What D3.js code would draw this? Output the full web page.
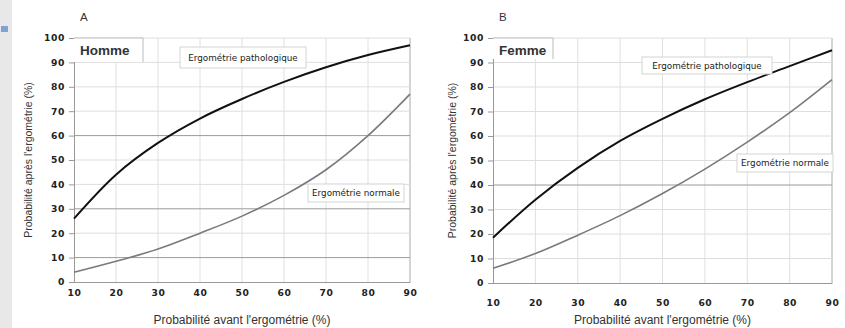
<!DOCTYPE html>
<html>
<head>
<meta charset="utf-8">
<script src="https://cdn.jsdelivr.net/npm/d3@7"></script>
<style>
  body { margin: 0; background: #fff; }
  svg { display: block; font-family: "Liberation Sans", Arial, sans-serif; }
  .tick text { font-family: "DejaVu Sans", sans-serif; font-weight: bold; font-size: 9.2px; letter-spacing: 0.6px; fill: #222; }
  .tick line { stroke: #999; }
  .domain { stroke: #999; }
  .tag { font-family: "DejaVu Sans", sans-serif; font-size: 8.8px; fill: #222; }
</style>
</head>
<body>
<div id="chart"></div>
<script>
// probabilité avant l'ergométrie (%)
const preProb = [10, 20, 30, 40, 50, 60, 70, 80, 90];
// probabilité après l'ergométrie (%)
const hommePatho  = [26, 44, 57, 67, 75, 82, 88, 93, 97];
const hommeNormal = [4, 8.5, 13.5, 20, 27, 35.5, 46, 60, 77];
const femmePatho  = [18.5, 34, 47, 58, 67, 75, 82, 88.5, 95];
const femmeNormal = [6, 12, 19.5, 27.5, 36.5, 46.5, 57.5, 69.5, 83];
const yTicks = [0, 10, 20, 30, 40, 50, 60, 70, 80, 90, 100];
const xTicks = preProb;
const panelLetters = ["A", "B"];
const sexLabels = ["Homme", "Femme"];
const pathoLabel = "Ergométrie pathologique";
const normalLabel = "Ergométrie normale";

const svg = d3.select("#chart").append("svg")
    .attr("width", 845)
    .attr("height", 328);

// bande grise du bord gauche
svg.append("rect").attr("x", 0).attr("y", 0).attr("width", 12).attr("height", 328).attr("fill", "#e8e8e8");
svg.append("rect").attr("x", 1).attr("y", 26).attr("width", 7).attr("height", 6).attr("fill", "#7fa3d6");

const panels = [
    { x0: 74, x1: 410, y0: 282, y1: 38, patho: hommePatho, normal: hommeNormal, darkGrid: [60, 30, 10],
      sexBox: [74, 38, 69, 24], pathoBox: [180, 47, 126, 21], normalBox: [308, 184, 96, 18], tickDy: 0, yLabelX: 28 },
    { x0: 493, x1: 832, y0: 283, y1: 38, patho: femmePatho, normal: femmeNormal, darkGrid: [40],
      sexBox: [493, 38, 60, 21], pathoBox: [642, 57, 130, 17], normalBox: [737, 154, 96, 18], tickDy: 9, yLabelX: 452 }
];

panels.forEach((p, i) => {
    const x = d3.scaleLinear().domain([10, 90]).range([p.x0, p.x1]);
    const y = d3.scaleLinear().domain([0, 100]).range([p.y0, p.y1]);
    const g = svg.append("g");

    // grille
    g.selectAll(".vgrid").data(xTicks.slice(1)).enter().append("line")
        .attr("x1", d => x(d)).attr("x2", d => x(d))
        .attr("y1", y(100)).attr("y2", y(0))
        .attr("stroke", d => d === 90 ? "#aaa" : "#e0e0e0");
    g.selectAll(".hgrid").data(yTicks.slice(1)).enter().append("line")
        .attr("x1", x(10)).attr("x2", x(90))
        .attr("y1", d => y(d)).attr("y2", d => y(d))
        .attr("stroke", d => p.darkGrid.includes(d) ? "#9a9a9a" : "#dedede");

    // axes
    g.append("g").attr("transform", `translate(${p.x0},0)`)
        .call(d3.axisLeft(y).tickValues(yTicks).tickSize(5).tickPadding(4));
    g.append("g").attr("transform", `translate(0,${p.y0})`)
        .call(d3.axisBottom(x).tickValues(xTicks).tickSize(0).tickPadding(7 + p.tickDy));

    // courbes
    const line = d3.line()
        .x((d, j) => x(preProb[j]))
        .y(d => y(d))
        .curve(d3.curveCatmullRom.alpha(0.5));
    g.append("path").datum(p.normal).attr("d", line)
        .attr("fill", "none").attr("stroke", "#7a7a7a").attr("stroke-width", 1.6);
    g.append("path").datum(p.patho).attr("d", line)
        .attr("fill", "none").attr("stroke", "#111").attr("stroke-width", 2);

    // encadré Homme / Femme
    const sb = p.sexBox;
    g.append("rect").attr("x", sb[0]).attr("y", sb[1]).attr("width", sb[2]).attr("height", sb[3]).attr("fill", "#fff");
    g.append("path").attr("d", `M${sb[0]},${sb[1]}H${sb[0] + sb[2]}V${sb[1] + sb[3]}`)
        .attr("fill", "none").attr("stroke", "#bbb");
    g.append("text").attr("x", sb[0] + 6).attr("y", sb[1] + 17)
        .attr("font-size", 13.5).attr("font-weight", "bold").attr("fill", "#333")
        .text(sexLabels[i]);

    // étiquettes des courbes
    [[p.pathoBox, pathoLabel], [p.normalBox, normalLabel]].forEach(([b, label]) => {
        g.append("rect").attr("x", b[0]).attr("y", b[1]).attr("width", b[2]).attr("height", b[3])
            .attr("fill", "#fff").attr("stroke", "#d4d4d4");
        g.append("text").attr("class", "tag")
            .attr("x", b[0] + b[2] / 2).attr("y", b[1] + b[3] / 2 + 3)
            .attr("text-anchor", "middle")
            .text(label);
    });

    // titres
    g.append("text").attr("x", p.x0 + 6).attr("y", 21).attr("font-size", 11.5).attr("fill", "#333")
        .text(panelLetters[i]);
    g.append("text").attr("x", (p.x0 + p.x1) / 2).attr("y", 324).attr("text-anchor", "middle")
        .attr("font-size", 12).attr("fill", "#333")
        .text("Probabilité avant l'ergométrie (%)");
    g.append("text").attr("transform", `translate(${p.yLabelX + 4},${(p.y0 + p.y1) / 2}) rotate(-90)`)
        .attr("text-anchor", "middle").attr("font-size", 10.5).attr("fill", "#333")
        .text("Probabilité après l'ergométrie (%)");
});
</script>
</body>
</html>
